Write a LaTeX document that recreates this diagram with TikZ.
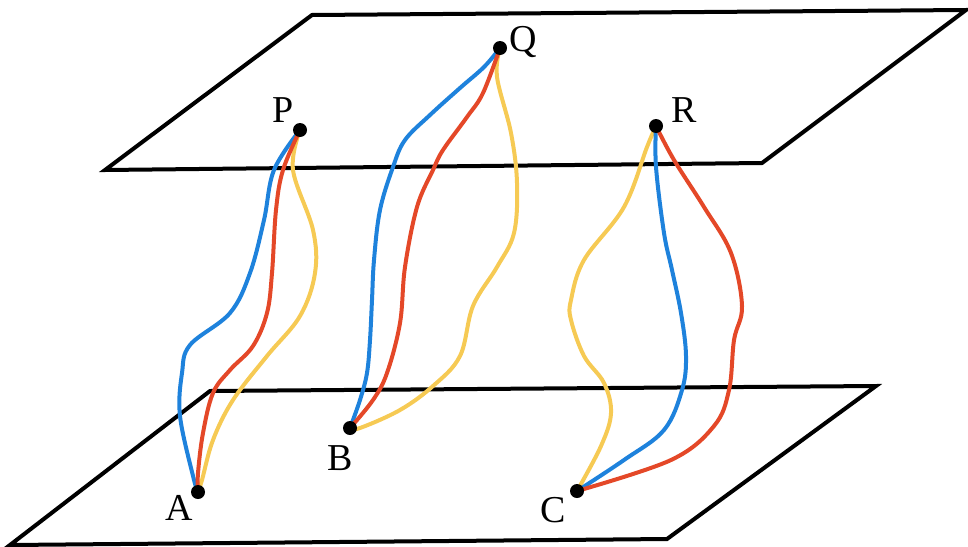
\documentclass[tikz,border=0pt]{standalone}
\usepackage{fontspec}
\setmainfont{Liberation Serif}
\definecolor{cblue}{RGB}{30,130,220}
\definecolor{cred}{RGB}{228,72,40}
\definecolor{cyel}{RGB}{246,202,84}
\begin{document}
\begin{tikzpicture}[x=0.5pt,y=-0.5pt,
  plane/.style={draw=black,line width=2pt,line join=miter},
  wire/.style={line width=2pt,line cap=round},
  dot/.style={circle,fill=black,inner sep=0pt,minimum size=7pt},
  lbl/.style={font=\fontsize{19}{21}\selectfont,inner sep=1pt}]
\useasboundingbox (0,0) rectangle (968,546);
% planes
\draw[plane] (312,15) -- (966,10) -- (762,163) -- (105,170) -- cycle;
\draw[plane] (210,391) -- (876,386) -- (667,539) -- (10,545) -- cycle;
% points
\coordinate (P) at (300,130);
\coordinate (Q) at (500,48);
\coordinate (R) at (656,126);
\coordinate (A) at (198,492);
\coordinate (B) at (350,428);
\coordinate (C) at (577,491);
% P - A
\draw[wire,cyel] plot[smooth,tension=0.6] coordinates {(P) (293,170) (313,230) (315,273) (300,316) (267,356) (233,400) (213,440) (202,480) (A)};
\draw[wire,cblue] plot[smooth,tension=0.6] coordinates {(P) (274,170) (264,220) (250,273) (230,313) (190,345) (182,373) (180,416) (193,476) (A)};
\draw[wire,cred] plot[smooth,tension=0.6] coordinates {(P) (283,170) (276,210) (272,273) (267,313) (253,346) (230,370) (213,393) (203,433) (198,473) (A)};
% Q - B
\draw[wire,cyel] plot[smooth,tension=0.6] coordinates {(Q) (497,77) (511,133) (517,183) (514,233) (497,267) (473,306) (460,356) (433,386) (400,410) (360,428) (B)};
\draw[wire,cblue] plot[smooth,tension=0.6] coordinates {(Q) (484,67) (460,88) (430,115) (405,140) (393,167) (380,210) (374,260) (372,300) (370,340) (367,373) (360,400) (B)};
\draw[wire,cred] plot[smooth,tension=0.6] coordinates {(Q) (483,93) (467,117) (443,150) (433,170) (417,207) (405,267) (400,323) (387,373) (373,400) (B)};
% R - C
\draw[wire,cyel] plot[smooth,tension=0.6] coordinates {(R) (647,147) (624,207) (584,260) (571,300) (571,320) (584,356) (604,383) (611,413) (601,446) (C)};
\draw[wire,cblue] plot[smooth,tension=0.6] coordinates {(R) (656,167) (664,233) (672,270) (681,313) (686,356) (682,390) (664,430) (624,460) (C)};
\draw[wire,cred] plot[smooth,tension=0.6] coordinates {(R) (674,160) (704,207) (731,253) (742,306) (734,340) (729,390) (714,426) (671,460) (C)};
% dots and labels
\foreach \p in {P,Q,R,A,B,C} \node[dot] at (\p) {};
\node[lbl] (lP) at (283,110) {P};
\node[lbl] (lQ) at (523,42) {Q};
\node[lbl] (lR) at (684,110) {R};
\node[lbl] (lA) at (179,508) {A};
\node[lbl] (lB) at (340,458) {B};
\node[lbl] (lC) at (553,510) {C};
\end{tikzpicture}
\end{document}
